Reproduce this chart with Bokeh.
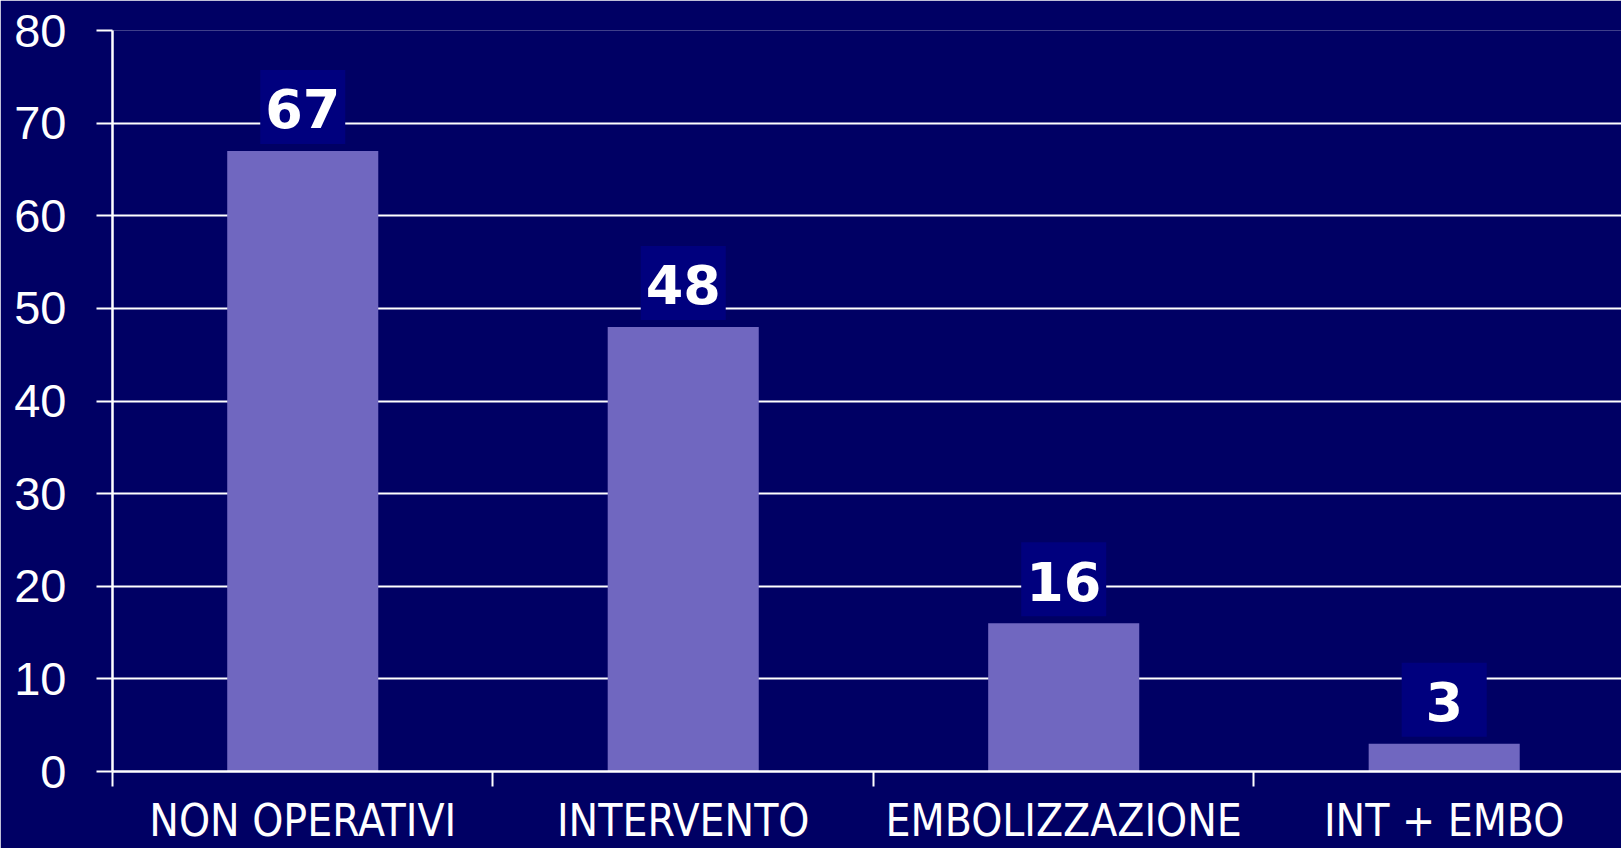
from bokeh.plotting import figure
from bokeh.models import Range1d, FixedTicker
from bokeh.core.properties import value
from bokeh.embed import file_html
from bokeh.resources import INLINE

categories = ["NON OPERATIVI", "INTERVENTO", "EMBOLIZZAZIONE", "INT + EMBO"]
counts = [67, 48, 16, 3]
y_ticks = [0, 10, 20, 30, 40, 50, 60, 70, 80]

BG = "#000064"
BAR = "#7067C0"
BOX = "#00007E"

xs = [i + 0.5 for i in range(len(categories))]
boundaries = [float(i) for i in range(len(categories))]
label_y = [c + 4.75 for c in counts]

p = figure(width=1621, height=848, output_backend="svg", toolbar_location=None,
           x_range=Range1d(0, 3.966), y_range=Range1d(0, 80),
           min_border_left=112, min_border_right=0, min_border_top=30, min_border_bottom=76)
p.background_fill_color = BG
p.border_fill_color = BG
p.outline_line_color = None

p.vbar(x=xs, top=counts, width=0.397, fill_color=BAR, line_color=None)
p.rect(x=xs, y=label_y, width=85, height=74,
       width_units="screen", height_units="screen", fill_color=BOX, line_color=None)
p.text(x=xs, y=label_y, text=[str(c) for c in counts], y_offset=2,
       text_align="center", text_baseline="middle",
       text_font=value("DejaVu Sans"), text_font_style="bold",
       text_font_size="54px", text_color="white")

p.xgrid.visible = False
p.ygrid.grid_line_color = "white"
p.ygrid.grid_line_width = 2
p.ygrid.ticker = FixedTicker(ticks=y_ticks)

ya = p.yaxis[0]
ya.ticker = FixedTicker(ticks=y_ticks)
ya.axis_line_color = "white"
ya.axis_line_width = 2.5
ya.major_tick_line_color = "white"
ya.major_tick_line_width = 2
ya.major_tick_out = 16
ya.major_tick_in = 0
ya.minor_tick_line_color = None
ya.major_label_standoff = 30
ya.major_label_text_color = "white"
ya.major_label_text_font = "Liberation Sans"
ya.major_label_text_font_size = "47px"

xa = p.xaxis[0]
xa.ticker = FixedTicker(ticks=xs, minor_ticks=boundaries)
xa.major_label_overrides = {x: c for x, c in zip(xs, categories)}
xa.axis_line_color = "white"
xa.axis_line_width = 2.5
xa.major_tick_line_color = None
xa.major_tick_out = 15
xa.major_tick_in = 0
xa.minor_tick_line_color = "white"
xa.minor_tick_line_width = 2
xa.minor_tick_out = 15
xa.minor_tick_in = 0
xa.major_label_standoff = 8
xa.major_label_text_color = "white"
xa.major_label_text_font = "Liberation Sans Narrow, DejaVu Sans Condensed, Liberation Sans"
xa.major_label_text_font_size = "44px"

open("out.html", "w").write(file_html(p, INLINE))
